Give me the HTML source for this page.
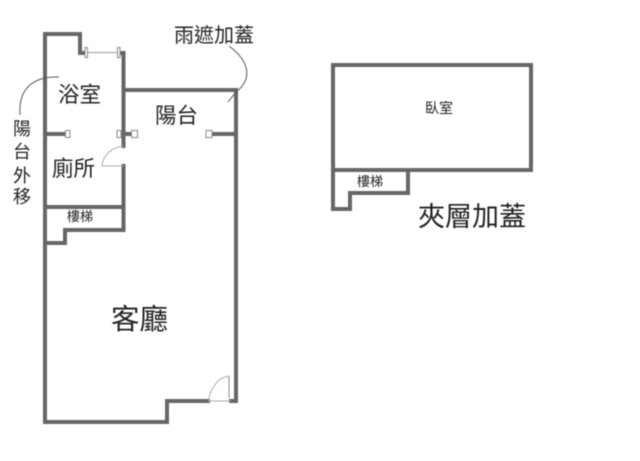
<!DOCTYPE html>
<html>
<head>
<meta charset="utf-8">
<style>
html,body{margin:0;padding:0;background:#fff;}
svg{display:block;filter:blur(0.45px);}
text{font-family:"Liberation Sans","Noto Sans CJK TC",sans-serif;fill:#222;}
</style>
</head>
<body>
<svg width="640" height="461" viewBox="0 0 640 461" xmlns="http://www.w3.org/2000/svg">
<g fill="none" stroke="#666" stroke-width="4" stroke-linecap="square" stroke-linejoin="miter">
<path d="M85 53H80V34H45V422H167V401H208"/>
<path d="M120 53H123.500V146"/>
<path d="M123.500 166V230H65V243H45"/>
<path d="M45 207H123"/>
<path d="M123.500 90H236V401H231"/>
<path d="M45 134H65"/>
<path d="M123 134H130"/>
<path d="M212 134H236"/>
<path d="M333 65H531V170H333Z"/>
<path d="M333 170V209H350V193H408V170"/>
</g>
<g fill="#fff" stroke="#888" stroke-width="1">
<rect x="65.500" y="130.500" width="4.500" height="7"/>
<rect x="117" y="130.500" width="4" height="7"/>
<rect x="131.500" y="130.500" width="6" height="7"/>
<rect x="206" y="130.500" width="6" height="7"/>
<rect x="85" y="47.500" width="2.500" height="10"/>
<rect x="117.500" y="47.500" width="2.500" height="10"/>
</g>
<g fill="none" stroke="#999" stroke-width="1">
<path d="M87 52.500H118"/>
<path d="M123.500 146C112 147 103 155 102 166H123.500" stroke="#aaa"/>
<path d="M229 376C218 377 210 389 208.500 401H231" stroke="#aaa"/>
<path d="M229 376V398" stroke="#888"/>
</g>
<g fill="none" stroke="#555" stroke-width="1">
<path d="M59 77C34 76 18 88 20 115"/>
<path d="M229 46C248 60 254 78 236 92L228 102"/>
</g>
<text x="58" y="102" font-size="21.500">浴室</text>
<text x="155" y="123" font-size="21.500">陽台</text>
<text x="52" y="176" font-size="21.500">廁所</text>
<text x="67" y="221" font-size="13">樓梯</text>
<text x="111" y="329" font-size="28.500">客廳</text>
<text x="174" y="42" font-size="20">雨遮加蓋</text>
<text x="13" y="135" font-size="18">陽</text>
<text x="13" y="158" font-size="18">台</text>
<text x="13" y="182" font-size="18">外</text>
<text x="13" y="203" font-size="18">移</text>
<text x="425" y="113" font-size="14">臥室</text>
<text x="357" y="186" font-size="13">樓梯</text>
<text x="418" y="226" font-size="27">夾層加蓋</text>
</svg>
</body>
</html>
